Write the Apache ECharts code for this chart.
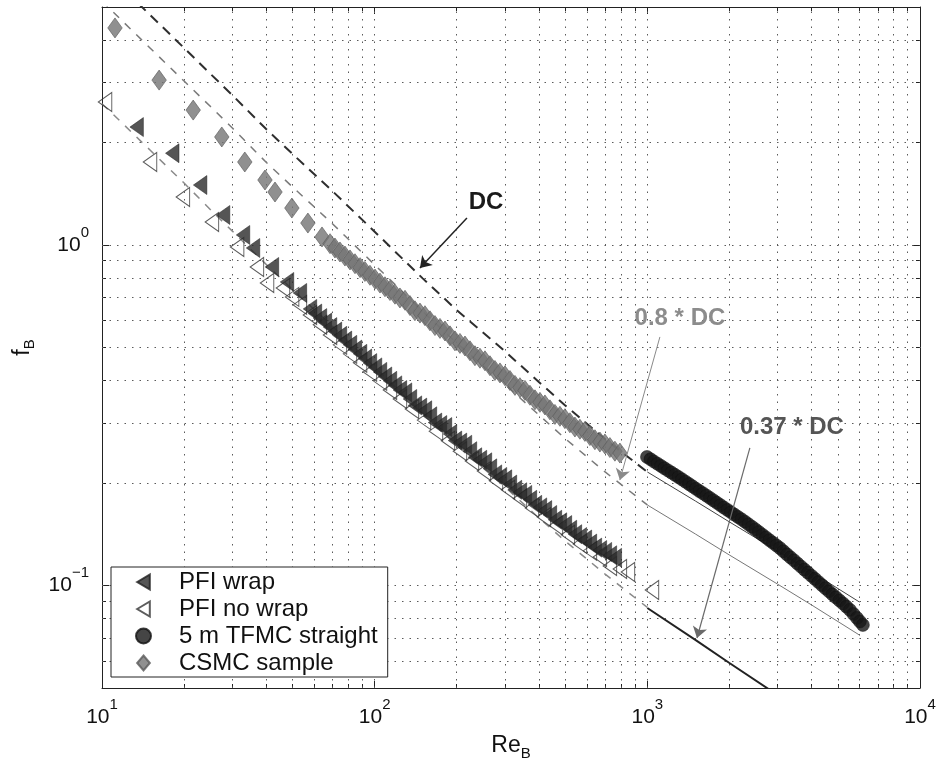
<!DOCTYPE html>
<html><head><meta charset="utf-8">
<script src="https://cdn.jsdelivr.net/npm/echarts@6/dist/echarts.min.js"></script>
<style>html,body{margin:0;padding:0;background:#fff}#c{width:943px;height:764px}</style>
</head><body><div id="c"></div>
<script>
const FONT = 'Liberation Sans, Arial, Helvetica, sans-serif';

// ---- axis ticks ----
const xMajor = [10, 100, 1000, 10000];
const xMinor = [20,30,40,50,60,70,80,90,200,300,400,500,600,700,800,900,2000,3000,4000,5000,6000,7000,8000,9000];
const yMajor = [0.1, 1];
const yMinor = [0.06,0.07,0.08,0.09,0.2,0.3,0.4,0.5,0.6,0.7,0.8,0.9,2,3,4];

// ---- reference curves (Re <= 1000, dashed) ----
const reDC   = [10,12,15,20,25,30,40,50,70,100,150,200,300,400,500,700,1000];
const fDC    = [6.51,5.64,4.74,3.79,3.18,2.76,2.19,1.85,1.44,1.094,0.798,0.644,0.488,0.396,0.338,0.269,0.2155];
const f08DC  = [5.21,4.51,3.79,3.03,2.55,2.21,1.75,1.48,1.155,0.875,0.638,0.515,0.390,0.317,0.270,0.2155,0.1724];
const f037DC = [2.60,2.26,1.90,1.52,1.27,1.10,0.877,0.739,0.578,0.438,0.319,0.258,0.195,0.158,0.135,0.108,0.0862];
// ---- reference curves (Re >= 1000, solid) ----
const reHigh     = [1000,1500,2000,3000,4000,6000];
const fDCHigh    = [0.2155,0.1771,0.1537,0.1263,0.1096,0.0894];
const f08DCHigh  = [0.1724,0.1417,0.1229,0.1010,0.0877,0.0715];
const f037DCHigh = [0.0859,0.0692,0.0592,0.0477,0.0414,0.0338];

// ---- PFI wrap ----
const rePFIw = [13.4,18.1,22.9,27.8,32.9,35.8,42.0,47.7,53.2,57.9,60.4,63.0,65.7,68.6,71.5,74.6,77.8,81.2,84.7,88.4,92.1,96.1,100.3,104.6,109.1,113.8,118.7,123.8,129.2,134.7,140.5,146.6,152.9,159.5,166.4,173.6,181.1,188.9,197.0,205.5,214.4,223.6,233.2,243.3,253.8,264.7,276.1,288.1,300.5,313.4,327.0,341.0,355.8,371.1,387.1,403.8,421.2,439.3,458.3,478.0,498.6,520.1,542.6,565.9,590.3,615.8,642.3,670.0,698.9,729.0,760];
const fPFIw  = [2.22,1.86,1.50,1.225,1.07,0.980,0.862,0.779,0.723,0.649,0.629,0.610,0.592,0.574,0.557,0.541,0.524,0.509,0.493,0.479,0.464,0.450,0.437,0.424,0.411,0.399,0.387,0.375,0.369,0.353,0.338,0.333,0.327,0.314,0.301,0.296,0.292,0.2786,0.2665,0.2629,0.2590,0.2480,0.2380,0.2340,0.2300,0.2208,0.2120,0.2084,0.2050,0.1979,0.1910,0.1879,0.1845,0.1785,0.1725,0.1696,0.1665,0.1611,0.1560,0.1533,0.1505,0.1458,0.1415,0.1388,0.1365,0.1328,0.1292,0.1271,0.1255,0.1227,0.1206];

// ---- PFI no wrap ----
const rePFInw = [10.26,15.0,19.8,25.3,31.3,37.0,40.3,46.1,49.8,53.2,57.9,63.0,68.6,74.6,81.2,88.4,96.1,104.6,113.8,123.8,137.0,151.7,167.8,185.7,205.5,227.4,251.7,278.5,308.2,341.0,377.4,417.6,462.1,511.4,565.9,615.8,670.0,729.0,793.2,849,1040];
const fPFInw  = [2.63,1.753,1.384,1.168,0.987,0.862,0.773,0.748,0.704,0.667,0.623,0.583,0.544,0.509,0.479,0.451,0.424,0.399,0.375,0.353,0.330,0.306,0.284,0.266,0.248,0.232,0.217,0.203,0.191,0.180,0.169,0.159,0.150,0.141,0.1325,0.1264,0.1213,0.1141,0.1118,0.1095,0.097];

// ---- 5 m TFMC straight ----
const reTF = [997,1027,1057,1089,1122,1155,1190,1226,1263,1301,1340,1380,1422,1464,1508,1553,1600,1648,1697,1748,1800,1854,1910,1967,2026,2087,2149,2214,2280,2348,2419,2491,2566,2643,2722,2804,2888,2974,3063,3155,3250,3348,3448,3551,3658,3767,3880,3997,4117,4241,4368,4499,4634,4773,4916,5064,5216,5372,5533,5699,5870,6020,6173];
const fTF  = [0.2385,0.2349,0.2313,0.2279,0.2245,0.2211,0.2178,0.2146,0.2114,0.2082,0.2050,0.2018,0.1986,0.1955,0.1924,0.1894,0.1865,0.1836,0.1807,0.1778,0.1750,0.1722,0.1694,0.1667,0.1641,0.1615,0.1590,0.1565,0.1540,0.1513,0.1487,0.1461,0.1435,0.1409,0.1384,0.1359,0.1335,0.1311,0.1288,0.1261,0.1235,0.1210,0.1186,0.1161,0.1137,0.1114,0.1091,0.1068,0.1046,0.1024,0.1003,0.0982,0.0962,0.0942,0.0923,0.0904,0.0886,0.0867,0.0848,0.0825,0.0803,0.0784,0.0766];

// ---- CSMC sample ----
const reCS = [11.16,16.2,21.6,27.5,33.4,39.6,43.1,49.7,56.9,64.1,68.6,71.5,74.6,77.8,81.2,84.7,88.4,92.1,96.1,100.3,104.6,109.1,113.8,118.7,123.8,129.2,134.7,140.5,146.6,152.9,159.5,166.4,173.6,181.1,188.9,197.0,205.5,214.4,223.6,233.2,243.3,253.8,264.7,276.1,288.1,300.5,313.4,327.0,341.0,355.8,371.1,387.1,403.8,421.2,439.3,458.3,478.0,498.6,520.1,542.6,565.9,590.3,615.8,642.3,670.0,698.9,729.0,760.5,793.2];
const fCS  = [4.34,3.05,2.49,2.076,1.753,1.552,1.431,1.284,1.160,1.056,1.009,0.980,0.954,0.928,0.904,0.881,0.858,0.836,0.815,0.794,0.773,0.754,0.735,0.717,0.699,0.688,0.664,0.641,0.631,0.620,0.599,0.580,0.569,0.559,0.541,0.523,0.514,0.505,0.489,0.473,0.465,0.457,0.442,0.428,0.421,0.413,0.400,0.387,0.381,0.374,0.362,0.351,0.345,0.339,0.328,0.318,0.314,0.309,0.3005,0.292,0.2877,0.2835,0.2756,0.2680,0.2638,0.2605,0.2542,0.2480,0.2449];

// ---- annotations (data coordinates) ----
const notes = [
  {text: 'DC',        at: [256, 1.33],   from: [218, 1.20],   to: [146.6, 0.856], color: '#1a1a1a', lineColor: '#222', lw: 1.5},
  {text: '0.8 * DC',  at: [1317, 0.610], from: [1112, 0.537], to: [793, 0.204],   color: '#8c8c8c', lineColor: '#8a8a8a', lw: 1},
  {text: '0.37 * DC', at: [3390, 0.292], from: [2377, 0.2535],to: [1521, 0.0701], color: '#555',    lineColor: '#6a6a6a', lw: 1.2}
];

const zip = (a, b) => a.map((v, i) => [v, b[i]]);
const expStr = v => { const e = Math.log10(v); const r = Math.round(e); if (Math.abs(e - r) > 1e-6) return null; return String(r).replace('-', '\u2212'); };
const labelFmt = v => { const s = expStr(v); return s === null ? '' : '{b|10}{s|' + s + '}'; };
const labelRich = {
  b: {fontSize: 21, lineHeight: 40, fontFamily: FONT, color: '#111'},
  s: {fontSize: 15, verticalAlign: 'top', fontFamily: FONT, color: '#111'}
};
const nameRich = {
  a: {fontSize: 23, lineHeight: 30, fontFamily: FONT, color: '#111'},
  b: {fontSize: 15, verticalAlign: 'bottom', fontFamily: FONT, color: '#111'}
};

const baseX = {type: 'log', logBase: 10, min: 10, max: 10000, gridIndex: 0};
const baseY = {type: 'log', logBase: 10, min: 0.05, max: 5, gridIndex: 0};
function mkAxis(base, pos, ticks, len, extra) {
  return Object.assign({}, base, {
    position: pos,
    axisLine: {show: true, onZero: false, lineStyle: {color: '#222', width: 1}},
    axisTick: {show: true, inside: true, length: len, customValues: ticks, lineStyle: {color: '#222', width: 1}},
    axisLabel: {show: false},
    splitLine: {show: false},
    minorTick: {show: false},
    minorSplitLine: {show: false},
    axisPointer: {show: false}
  }, extra || {});
}

const chart = echarts.init(document.getElementById('c'), null, {renderer: 'canvas'});

const symTri = 'path://M0,9.5 L16,0 L16,19 Z';
const symDia = 'path://M8.5,0 L17,10 L8.5,20 L0,10 Z';

const lineS = (name, re, f, style) => ({
  name, type: 'line', xAxisIndex: 0, yAxisIndex: 0, data: zip(re, f),
  symbol: 'none', showSymbol: false, silent: true, z: 2, clip: true,
  lineStyle: style, emphasis: {disabled: true}
});

const option = {
  animation: false,
  backgroundColor: '#fff',
  textStyle: {fontFamily: FONT},
  grid: {left: 102, right: 23, top: 7, bottom: 76, outerBoundsMode: 'none', containLabel: false},
  xAxis: [
    mkAxis(baseX, 'bottom', xMajor, 7, {
      axisLabel: {show: true, customValues: xMajor, margin: 9, formatter: labelFmt, rich: labelRich},
      name: '{a|Re}{b|B}', nameLocation: 'middle', nameGap: 43,
      nameTextStyle: {rich: nameRich}
    }),
    mkAxis(baseX, 'bottom', xMinor, 4, {axisLine: {show: false}}),
    mkAxis(baseX, 'top', xMajor, 7),
    mkAxis(baseX, 'top', xMinor, 4, {axisLine: {show: false}})
  ],
  yAxis: [
    mkAxis(baseY, 'left', yMajor, 7, {
      axisLabel: {show: true, customValues: yMajor, margin: 13, formatter: labelFmt, rich: labelRich},
      name: '{a|f}{b|B}', nameLocation: 'middle', nameGap: 58, nameRotate: 90,
      nameTextStyle: {rich: nameRich}
    }),
    mkAxis(baseY, 'left', yMinor, 4, {axisLine: {show: false}}),
    mkAxis(baseY, 'right', yMajor, 7),
    mkAxis(baseY, 'right', yMinor, 4, {axisLine: {show: false}})
  ],
  legend: {
    data: ['PFI wrap', 'PFI no wrap', '5 m TFMC straight', 'CSMC sample'],
    orient: 'vertical', left: 111, top: 567,
    itemWidth: 15, itemHeight: 15, itemGap: 3,
    padding: [3, 10, 2, 24],
    borderColor: '#222', borderWidth: 1, borderRadius: 0,
    backgroundColor: '#fff',
    formatter: '{t|{name}}',
    textStyle: {fontSize: 24, fontFamily: FONT, color: '#111',
      rich: {t: {fontSize: 24, fontFamily: FONT, color: '#111', padding: [0, 0, 0, 23]}}},
    selectedMode: false, z: 10
  },
  series: [
    { // dotted grid
      name: 'grid', type: 'line', xAxisIndex: 0, yAxisIndex: 0, data: [[10, 1]],
      symbol: 'none', lineStyle: {opacity: 0}, silent: true, z: 1,
      markLine: {
        silent: true, symbol: 'none', z: 1, animation: false, label: {show: false},
        emphasis: {disabled: true},
        lineStyle: {type: [1.5, 6], color: '#5a5a5a', width: 1},
        data: [].concat(xMinor, [100, 1000]).map(v => ({xAxis: v}))
          .concat([].concat(yMinor, yMajor).map(v => ({yAxis: v})))
      }
    },
    lineS('DC', reDC, fDC, {type: [10, 7], width: 2, color: '#2e2e2e'}),
    lineS('0.8 DC', reDC, f08DC, {type: [8, 8], width: 1.5, color: '#7a7a7a'}),
    lineS('0.37 DC', reDC, f037DC, {type: [8, 8], width: 1.5, color: '#8a8a8a'}),
    lineS('DC hi', reHigh, fDCHigh, {type: 'solid', width: 1, color: '#444'}),
    lineS('0.8 DC hi', reHigh, f08DCHigh, {type: 'solid', width: 1, color: '#777'}),
    lineS('0.37 DC hi', reHigh, f037DCHigh, {type: 'solid', width: 2, color: '#222'}),
    {
      name: 'PFI no wrap', type: 'scatter', data: zip(rePFInw, fPFInw), z: 3,
      symbol: symTri, symbolSize: [16, 19], symbolKeepAspect: true,
      itemStyle: {color: 'rgba(0,0,0,0)', borderColor: '#333', borderWidth: 1}, emphasis: {disabled: true}, silent: true
    },
    {
      name: 'PFI wrap', type: 'scatter', data: zip(rePFIw, fPFIw), z: 3,
      symbol: symTri, symbolSize: [16, 19], symbolKeepAspect: true,
      itemStyle: {color: '#2a2a2a', borderColor: '#1e1e1e', borderWidth: 0.6}, emphasis: {disabled: true}, silent: true
    },
    {
      name: 'CSMC sample', type: 'scatter', data: zip(reCS, fCS), z: 3,
      symbol: symDia, symbolSize: [17, 20], symbolKeepAspect: true,
      itemStyle: {color: '#747474', borderColor: '#5a5a5a', borderWidth: 0.8}, emphasis: {disabled: true}, silent: true
    },
    {
      name: '5 m TFMC straight', type: 'scatter', data: zip(reTF, fTF), z: 3,
      symbol: 'circle', symbolSize: 13,
      itemStyle: {color: '#161616', borderColor: '#111', borderWidth: 0.6}, emphasis: {disabled: true}, silent: true
    },
    { // annotation arrows
      name: 'arrows', type: 'line', xAxisIndex: 0, yAxisIndex: 0, data: [[10, 1]],
      symbol: 'none', lineStyle: {opacity: 0}, silent: true, z: 5,
      markLine: {
        silent: true, symbol: ['none', 'arrow'], symbolSize: 11, animation: false,
        label: {show: false}, emphasis: {disabled: true},
        data: notes.map(n => [
          {coord: n.from, lineStyle: {color: n.lineColor, width: n.lw, type: 'solid'}, itemStyle: {color: n.lineColor}},
          {coord: n.to}
        ])
      }
    }
  ]
};
chart.setOption(option);

chart.setOption({
  graphic: notes.map(n => {
    const p = chart.convertToPixel({xAxisIndex: 0, yAxisIndex: 0}, n.at);
    return {
      type: 'text', x: p[0], y: p[1], z: 20, silent: true,
      style: {text: n.text, fill: n.color, font: 'bold 24px ' + FONT, align: 'center', verticalAlign: 'middle'}
    };
  })
});
</script>
</body></html>
